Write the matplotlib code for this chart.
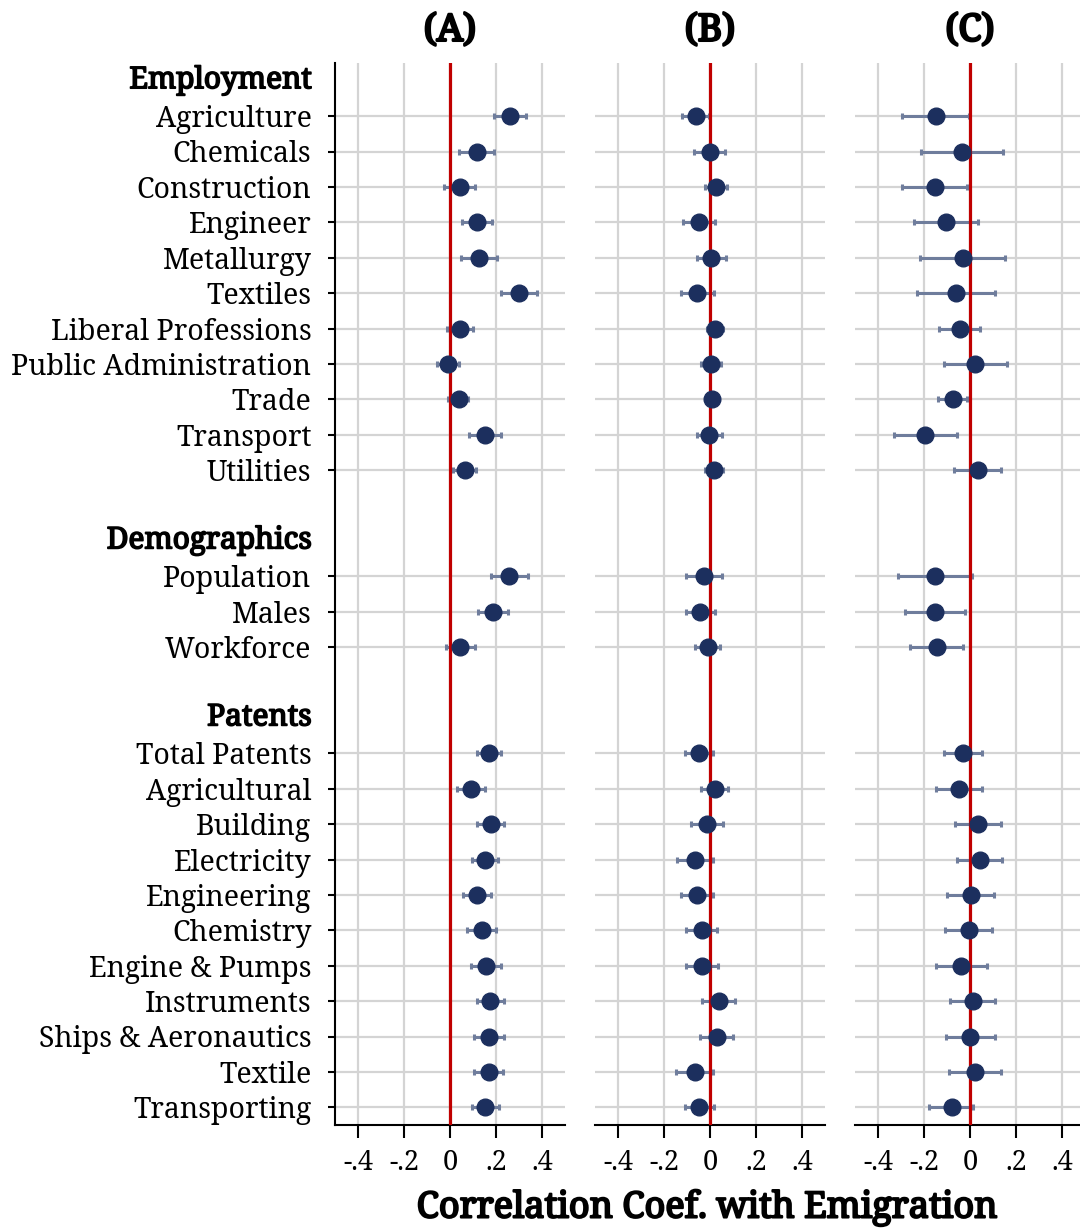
import numpy as np
import matplotlib.pyplot as plt
import matplotlib.patheffects as pe

# row layout: group headers, items, blank spacer between groups
groups = ['Employment', 'Demographics', 'Patents']
items = [
    ['Agriculture', 'Chemicals', 'Construction', 'Engineer', 'Metallurgy', 'Textiles',
     'Liberal Professions', 'Public Administration', 'Trade', 'Transport', 'Utilities'],
    ['Population', 'Males', 'Workforce'],
    ['Total Patents', 'Agricultural', 'Building', 'Electricity', 'Engineering', 'Chemistry',
     'Engine & Pumps', 'Instruments', 'Ships & Aeronautics', 'Textile', 'Transporting'],
]

panels = ['(A)', '(B)', '(C)']

est_a = [0.262, 0.116, 0.043, 0.116, 0.126, 0.300, 0.043, -0.009, 0.038, 0.151, 0.064,
         0.258, 0.187, 0.045,
         0.168, 0.093, 0.177, 0.152, 0.117, 0.138, 0.157, 0.175, 0.170, 0.168, 0.154]
lo_a = [0.193, 0.041, -0.025, 0.051, 0.048, 0.223, -0.013, -0.058, -0.007, 0.083, 0.012,
        0.178, 0.120, -0.019,
        0.116, 0.032, 0.116, 0.097, 0.055, 0.072, 0.091, 0.116, 0.106, 0.106, 0.096]
hi_a = [0.332, 0.191, 0.107, 0.184, 0.203, 0.377, 0.099, 0.041, 0.080, 0.220, 0.114,
        0.339, 0.251, 0.107,
        0.220, 0.154, 0.235, 0.207, 0.180, 0.201, 0.222, 0.235, 0.235, 0.232, 0.213]

est_b = [-0.062, -0.001, 0.026, -0.049, 0.006, -0.055, 0.022, 0.004, 0.009, -0.004, 0.016,
         -0.028, -0.043, -0.009,
         -0.048, 0.020, -0.013, -0.065, -0.057, -0.036, -0.033, 0.038, 0.029, -0.067, -0.046]
lo_b = [-0.123, -0.068, -0.023, -0.119, -0.058, -0.128, -0.012, -0.038, -0.022, -0.058, -0.023,
        -0.106, -0.106, -0.064,
        -0.107, -0.038, -0.083, -0.142, -0.128, -0.104, -0.103, -0.033, -0.043, -0.146, -0.110]
hi_b = [-0.003, 0.067, 0.074, 0.020, 0.070, 0.019, 0.055, 0.049, 0.039, 0.052, 0.057,
        0.054, 0.020, 0.045,
        0.012, 0.078, 0.055, 0.012, 0.014, 0.030, 0.036, 0.107, 0.100, 0.013, 0.019]

est_c = [-0.148, -0.033, -0.152, -0.104, -0.030, -0.061, -0.045, 0.022, -0.075, -0.194, 0.033,
         -0.152, -0.152, -0.145,
         -0.030, -0.048, 0.035, 0.042, 0.003, -0.006, -0.038, 0.012, 0.000, 0.022, -0.080]
lo_c = [-0.294, -0.212, -0.294, -0.245, -0.217, -0.230, -0.136, -0.113, -0.139, -0.330, -0.071,
        -0.314, -0.281, -0.259,
        -0.112, -0.146, -0.064, -0.058, -0.101, -0.110, -0.146, -0.087, -0.106, -0.093, -0.177]
hi_c = [-0.003, 0.142, -0.012, 0.036, 0.154, 0.107, 0.045, 0.161, -0.012, -0.058, 0.135,
        0.010, -0.023, -0.032,
        0.054, 0.051, 0.133, 0.141, 0.106, 0.097, 0.072, 0.110, 0.107, 0.135, 0.014]

xticks = [-0.4, -0.2, 0, 0.2, 0.4]
xticklabels = ['-.4', '-.2', '0', '.2', '.4']

plt.rcParams['font.family'] = ['Noto Serif', 'DejaVu Serif']

# work out row positions
header_pos = []
item_pos = []
item_lbl = []
row = 0
for g, its in zip(groups, items):
    header_pos.append(row)
    row += 1
    for it in its:
        item_pos.append(row)
        item_lbl.append(it)
        row += 1
    row += 1
nrows = row - 1

NAVY = '#1c2f5e'
BAR = '#6f7d9c'
RED = '#c00000'
GRID = '#d4d4d4'

# regular-weight font only, so thicken the bold texts with a stroke
def bold(w):
    return [pe.withStroke(linewidth=w, foreground='black')]

fig = plt.figure(figsize=(10.8, 12.3), dpi=100)
lefts = [335, 595, 855]
data = [(est_a, lo_a, hi_a), (est_b, lo_b, hi_b), (est_c, lo_c, hi_c)]

for i, (left, (est, lo, hi)) in enumerate(zip(lefts, data)):
    ax = fig.add_axes([left / 1080, 1 - 1125 / 1230, 230 / 1080, 1062 / 1230])
    est = np.array(est)
    err = [est - np.array(lo), np.array(hi) - est]
    ax.errorbar(est, item_pos, xerr=err, fmt='none', ecolor=BAR, elinewidth=2.2,
                capsize=2.5, capthick=2.2, zorder=3)
    ax.axvline(0, color=RED, lw=2.3, zorder=4)
    ax.plot(est, item_pos, 'o', color=NAVY, ms=12, mec=NAVY, zorder=5)

    ax.set_xlim(-0.5, 0.5)
    ax.set_ylim(nrows - 0.5, -0.5)
    ax.set_xticks(xticks)
    ax.set_xticklabels(xticklabels, fontsize=19.5)
    ax.set_yticks(item_pos)
    ax.grid(True, color=GRID, lw=1.6, zorder=0)
    ax.set_axisbelow(True)
    ax.tick_params(axis='x', length=9, width=1.5, pad=8, direction='out')
    for s in ['top', 'right']:
        ax.spines[s].set_visible(False)
    ax.spines['bottom'].set_linewidth(1.5)
    if i == 0:
        ax.spines['left'].set_linewidth(1.5)
        ax.set_yticklabels(item_lbl, fontsize=20.5)
        ax.tick_params(axis='y', length=5, width=1.5, pad=12)
        for h, g in zip(header_pos, groups):
            ax.text(-0.5 - 23 / 230, h, g, fontsize=21.5, ha='right', va='center',
                    path_effects=bold(1.2))
    else:
        ax.spines['left'].set_visible(False)
        ax.set_yticklabels([])
        ax.tick_params(axis='y', length=0)
    ax.set_title(panels[i], fontsize=27, pad=16, path_effects=bold(1.8))

fig.text(707 / 1080, 1 - 1208 / 1230, 'Correlation Coef. with Emigration', fontsize=26,
         ha='center', va='center', path_effects=bold(1.5))

fig.savefig('out.png', dpi=100)
